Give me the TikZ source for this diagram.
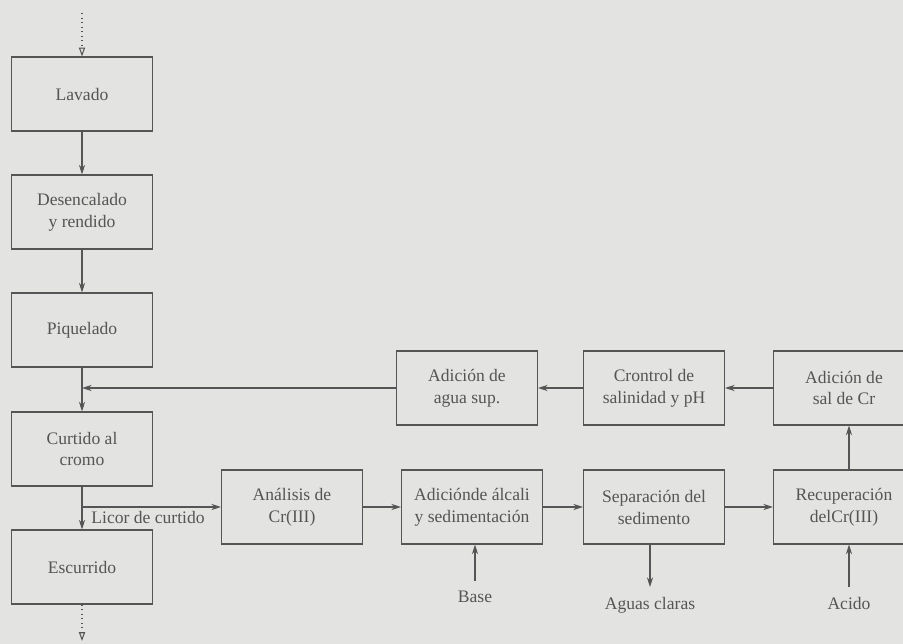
\documentclass[tikz,border=0pt]{standalone}
\usepackage{fontspec}
\setmainfont{Liberation Serif}
\usetikzlibrary{positioning, calc, arrows.meta}
\definecolor{papel}{RGB}{227,227,225}
\definecolor{tinta}{RGB}{85,85,85}

\begin{document}
\begin{tikzpicture}[x=0.02cm, y=-0.02cm,
    caja/.style={draw=tinta, line width=0.6pt, text=tinta, inner sep=0pt,
      minimum width=2.82cm, minimum height=1.48cm, align=center,
      font=\fontsize{10}{12.5}\selectfont},
    etiq/.style={text=tinta, inner xsep=1pt, inner ysep=5.5pt,
      font=\fontsize{10}{12.5}\selectfont},
    flecha/.style={draw=tinta, line width=0.6pt, -{Stealth[length=5.5pt,width=3.5pt]}},
    punteada/.style={draw=tinta, line width=0.6pt, dotted,
      -{Triangle[open,length=5pt,width=3.5pt]}}]
\path[use as bounding box, fill=papel] (0,0) rectangle (903,644);

% columna de proceso
\node[caja] (lav) at (82,94)  {Lavado};
\node[caja] (des) at (82,212) {Desencalado\\y rendido};
\node[caja] (piq) at (82,330) {Piquelado};
\node[caja] (cur) at (82,449) {Curtido al\\cromo};
\node[caja] (esc) at (82,567) {Escurrido};
\coordinate (entrada) at (82,13);
\coordinate (salida)  at (82,641);

% recuperacion del cromo
\node[caja] (ana) at (292,507) {Análisis de\\Cr(III)};
\node[caja] (alc) at (472,507) {Adiciónde álcali\\y sedimentación};
\node[caja] (sep) at (654,507) {Separación del\\sedimento};
\node[caja] (rec) at (844,507) {Recuperación\\delCr(III)};

\node[caja] (agua) at (467,388) {Adición de\\agua sup.};
\node[caja] (ctl)  at (654,388) {Crontrol de\\salinidad y pH};
\node[caja] (sal)  at (844,388) {Adición de\\sal de Cr};

\node[etiq] (base)  at (475,597) {Base};
\node[etiq] (aguas) at (650,605) {Aguas claras};
\node[etiq] (acido) at (849,603) {Acido};
\node[etiq, inner ysep=1pt] (licor) at (148,517) {Licor de curtido};

\draw[punteada] (entrada) -- (lav);
\path
    (lav) edge[flecha] (des)
    (des) edge[flecha] (piq)
    (piq) edge[flecha] (cur)
    (cur) edge[flecha] (esc);
\draw[punteada] (esc) -- (salida);

\draw[flecha] (cur.south |- ana.west) -- (ana.west);
\path
    (ana) edge[flecha] (alc)
    (alc) edge[flecha] (sep)
    (sep) edge[flecha] (rec);
\draw[flecha] (acido |- rec.north) -- (acido |- sal.south);
\path
    (sal) edge[flecha] (ctl)
    (ctl) edge[flecha] (agua);
\draw[flecha] (agua.west) -- (agua.west -| piq.south);

\draw[flecha] (base.north) -- (base.north |- alc.south);
\draw[flecha] (aguas.north |- sep.south) -- (aguas.north);
\draw[flecha] (acido.north) -- (acido.north |- rec.south);
\end{tikzpicture}
\end{document}
